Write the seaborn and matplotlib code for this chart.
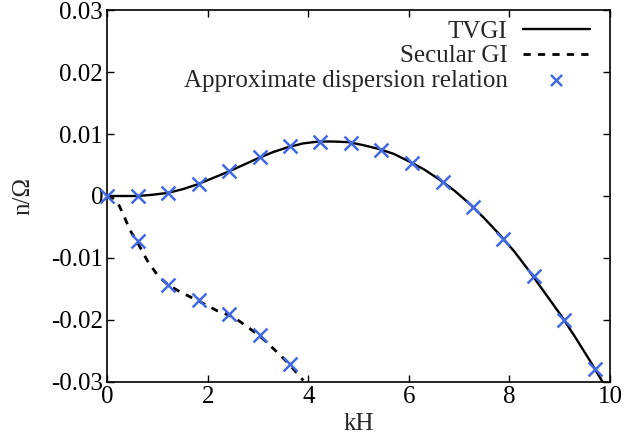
import matplotlib
matplotlib.use("Agg")
import matplotlib.pyplot as plt
import seaborn as sns
import pandas as pd

# ---- data ----
tvgi_k = [0, 0.3, 0.6, 0.9, 1.2, 1.5, 1.8, 2.1, 2.4, 2.7, 3.0, 3.3, 3.6, 3.9, 4.2, 4.5,
          4.8, 5.1, 5.4, 5.7, 6.0, 6.3, 6.6, 6.9, 7.2, 7.5, 7.8, 8.1, 8.4, 8.7, 9.0, 9.3,
          9.6, 9.85]
tvgi_n = [0, 0.0000, 0.0000, 0.0002, 0.0005, 0.0011, 0.0019, 0.0029, 0.0039, 0.0050,
          0.0061, 0.0071, 0.0079, 0.0085, 0.0088, 0.0088, 0.0087, 0.0082, 0.0076, 0.0068,
          0.0056, 0.0043, 0.0027, 0.0009, -0.0012, -0.0036, -0.0062, -0.0090, -0.0122,
          -0.0156, -0.0190, -0.0227, -0.0266, -0.0300]

secular_k = [0, 0.1, 0.22, 0.32, 0.45, 0.6, 0.8, 1.0, 1.2, 1.45, 1.8, 2.2, 2.5, 2.8,
             3.1, 3.4, 3.6, 3.9]
secular_n = [0, -0.0003, -0.0013, -0.0030, -0.0055, -0.0075, -0.0105, -0.0128, -0.0143,
             -0.0155, -0.0169, -0.0186, -0.0195, -0.0212, -0.0231, -0.0254, -0.0270,
             -0.0298]

approx_tvgi_k = [0, 0.61, 1.21, 1.82, 2.42, 3.03, 3.64, 4.24, 4.85, 5.45, 6.06, 6.67,
                 7.27, 7.88, 8.48, 9.09, 9.70]
approx_tvgi_n = [0, 0.0, 0.0005, 0.0019, 0.0040, 0.0063, 0.0080, 0.0088, 0.0086, 0.0075,
                 0.0054, 0.0023, -0.0018, -0.0069, -0.0130, -0.0200, -0.0280]
approx_sec_k = [0.61, 1.21, 1.82, 2.42, 3.03, 3.64]
approx_sec_n = [-0.0072, -0.0143, -0.0168, -0.0190, -0.0225, -0.0272]

x_ticks = [0, 2, 4, 6, 8, 10]
x_tick_labels = ["0", "2", "4", "6", "8", "10"]
y_ticks = [0.03, 0.02, 0.01, 0, -0.01, -0.02, -0.03]
y_tick_labels = ["0.03", "0.02", "0.01", "0", "-0.01", "-0.02", "-0.03"]

labels = ["TVGI", "Secular GI", "Approximate dispersion relation"]

# ---- style ----
sns.set_style("ticks")
plt.rcParams["font.family"] = ["Liberation Serif", "DejaVu Serif"]

fig = plt.figure(figsize=(6.27, 4.42), dpi=100)
ax = fig.add_axes([107.3 / 627, 1 - 381.7 / 442, (610 - 107.3) / 627, (381.7 - 10.3) / 442])

fs = 18
blue = "#4169E1"

sns.lineplot(x=tvgi_k, y=tvgi_n, sort=False, ax=ax, color="black", lw=1.7,
             label=labels[0])
sns.lineplot(x=secular_k, y=secular_n, sort=False, ax=ax, color="black", lw=2.0,
             dashes=False, linestyle=(0, (2.6, 2.6)), label=labels[1])

approx = pd.DataFrame({"k": approx_tvgi_k + approx_sec_k,
                       "n": approx_tvgi_n + approx_sec_n})
sns.scatterplot(data=approx, x="k", y="n", ax=ax, marker="x", s=100,
                color=blue, linewidth=1.8, label=labels[2], zorder=3)
for coll in ax.collections:
    coll.set_clip_on(False)

ax.set_xlim(0, 10)
ax.set_ylim(-0.03, 0.03)
ax.set_xticks(x_ticks)
ax.set_xticklabels(x_tick_labels)
ax.set_yticks(y_ticks)
ax.set_yticklabels(y_tick_labels)
ax.tick_params(direction="in", top=True, right=True, length=5, width=1,
               labelsize=fs, pad=3, colors="black")
for sp in ax.spines.values():
    sp.set_visible(True)
    sp.set_linewidth(1.2)
    sp.set_color("black")

ax.set_xlabel("kH", fontsize=fs, labelpad=4)
ax.set_ylabel("n/Ω", fontsize=fs, labelpad=12)

handles, labs = ax.get_legend_handles_labels()
leg = ax.legend(handles, labs, loc="upper right", frameon=False, markerfirst=False,
                fontsize=fs, handlelength=2.7, handletextpad=0.6, labelspacing=0.09,
                markerscale=0.8, borderpad=0, borderaxespad=0,
                bbox_to_anchor=(590 / 627, 1 - 20 / 442), bbox_transform=fig.transFigure)

fig.savefig("out.png", dpi=100)
